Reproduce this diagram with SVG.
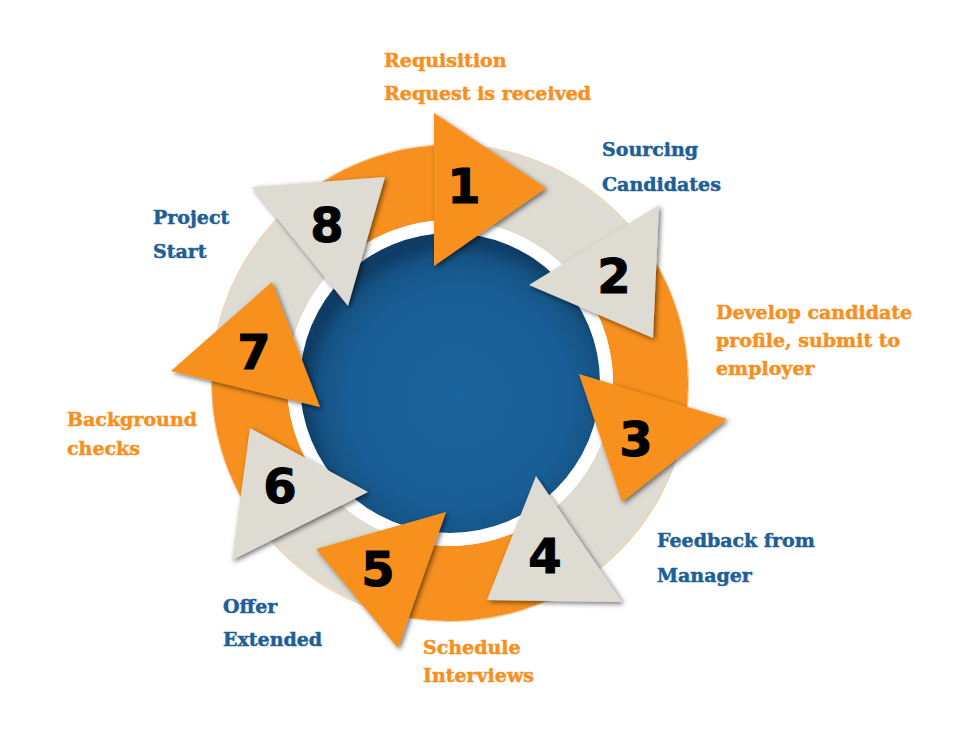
<svg xmlns="http://www.w3.org/2000/svg" width="980" height="739" viewBox="0 0 980 739">
  <defs>
    <radialGradient id="blueGrad" cx="53%" cy="55%" r="52%">
      <stop offset="0" stop-color="#1B639C"/>
      <stop offset="0.72" stop-color="#195E96"/>
      <stop offset="0.9" stop-color="#155283"/>
      <stop offset="1" stop-color="#0F3D66"/>
    </radialGradient>
    <filter id="shadow" x="-30%" y="-30%" width="160%" height="160%">
      <feDropShadow dx="2" dy="2" stdDeviation="2.5" flood-color="#000" flood-opacity="0.55"/>
    </filter>
    <style>
      .orange { fill: #F7901E; }
      .gray { fill: #DEDBD3; }
      .lbl { font-family: "DejaVu Serif", "Liberation Serif", serif; font-weight: bold; font-size: 19px; stroke-width: 0.5px; }
      .lo { fill: #F7901E; stroke: #F7901E; }
      .lb { fill: #1D5F96; stroke: #1D5F96; }
      .num { font-family: "DejaVu Sans", "Liberation Sans", sans-serif; font-weight: bold; font-size: 48px; fill: #000; stroke: #000; stroke-width: 1px; text-anchor: middle; }
    </style>
  </defs>
  <rect width="980" height="739" fill="#FFFFFF"/>

  <!-- ring outline -->
  <circle cx="450" cy="383" r="238.5" fill="none" stroke="#F6C9A0" stroke-width="1.2"/>

  <!-- connectors: ring arcs -->
  <g id="connectors">
    <path class="orange" d="M305.8,193.7 A238,238 0 0 1 476.1,146.4 L467.9,221.0 A163,163 0 0 0 351.2,253.3 Z"/>
    <path class="gray" d="M476.1,146.4 A238,238 0 0 1 649.2,252.7 L586.4,293.7 A163,163 0 0 0 467.9,221.0 Z"/>
    <path class="orange" d="M649.2,252.7 A238,238 0 0 1 680.7,441.4 L608.0,423.0 A163,163 0 0 0 586.4,293.7 Z"/>
    <path class="gray" d="M680.7,441.4 A238,238 0 0 1 565.7,591.0 L529.3,525.4 A163,163 0 0 0 608.0,423.0 Z"/>
    <path class="orange" d="M565.7,591.0 A238,238 0 0 1 373.7,608.4 L397.7,537.4 A163,163 0 0 0 529.3,525.4 Z"/>
    <path class="gray" d="M373.7,608.4 A238,238 0 0 1 251.5,514.4 L314.1,473.0 A163,163 0 0 0 397.7,537.4 Z"/>
    <path class="orange" d="M251.5,514.4 A238,238 0 0 1 214.7,347.4 L288.8,358.6 A163,163 0 0 0 314.1,473.0 Z"/>
    <path class="gray" d="M214.7,347.4 A238,238 0 0 1 305.8,193.7 L351.2,253.3 A163,163 0 0 0 288.8,358.6 Z"/>
  </g>

  <!-- centre -->
  <g id="center">
    <circle cx="450" cy="383" r="163" fill="#FFFFFF"/>
    <circle cx="450" cy="383" r="150" fill="url(#blueGrad)"/>
  </g>

  <!-- step nodes -->
  <g id="step1">
    <polygon class="orange" filter="url(#shadow)" points="434,113 546,188 434,266"/>
    <text class="num" x="464" y="203">1</text>
    <text class="lbl lo" x="384" y="67">Requisition</text>
    <text class="lbl lo" x="384" y="100">Request is received</text>
  </g>
  <g id="step2">
    <polygon class="gray" filter="url(#shadow)" points="659,205 653,338 529,285"/>
    <text class="num" x="614" y="293">2</text>
    <text class="lbl lb" x="602" y="156">Sourcing</text>
    <text class="lbl lb" x="602" y="191">Candidates</text>
  </g>
  <g id="step3">
    <polygon class="orange" filter="url(#shadow)" points="579,374 727,419 622,502"/>
    <text class="num" x="636" y="456">3</text>
    <text class="lbl lo" x="716" y="319">Develop candidate</text>
    <text class="lbl lo" x="716" y="347">profile, submit to</text>
    <text class="lbl lo" x="716" y="375">employer</text>
  </g>
  <g id="step4">
    <polygon class="gray" filter="url(#shadow)" points="536,476 622,602 487,600"/>
    <text class="num" x="545" y="573">4</text>
    <text class="lbl lb" x="657" y="547">Feedback from</text>
    <text class="lbl lb" x="657" y="582">Manager</text>
  </g>
  <g id="step5">
    <polygon class="orange" filter="url(#shadow)" points="446,512 398,648 316,549"/>
    <text class="num" x="378" y="586">5</text>
    <text class="lbl lo" x="423" y="654">Schedule</text>
    <text class="lbl lo" x="423" y="682">Interviews</text>
  </g>
  <g id="step6">
    <polygon class="gray" filter="url(#shadow)" points="368,492 232,560 250,428"/>
    <text class="num" x="280" y="503">6</text>
    <text class="lbl lb" x="223" y="613">Offer</text>
    <text class="lbl lb" x="223" y="646">Extended</text>
  </g>
  <g id="step7">
    <polygon class="orange" filter="url(#shadow)" points="320,407 171,371 272,282"/>
    <text class="num" x="254" y="369">7</text>
    <text class="lbl lo" x="67" y="426">Background</text>
    <text class="lbl lo" x="67" y="455">checks</text>
  </g>
  <g id="step8">
    <polygon class="gray" filter="url(#shadow)" points="252,187 385,177 348,306"/>
    <text class="num" x="327" y="242">8</text>
    <text class="lbl lb" x="153" y="224">Project</text>
    <text class="lbl lb" x="153" y="258">Start</text>
  </g>
</svg>
